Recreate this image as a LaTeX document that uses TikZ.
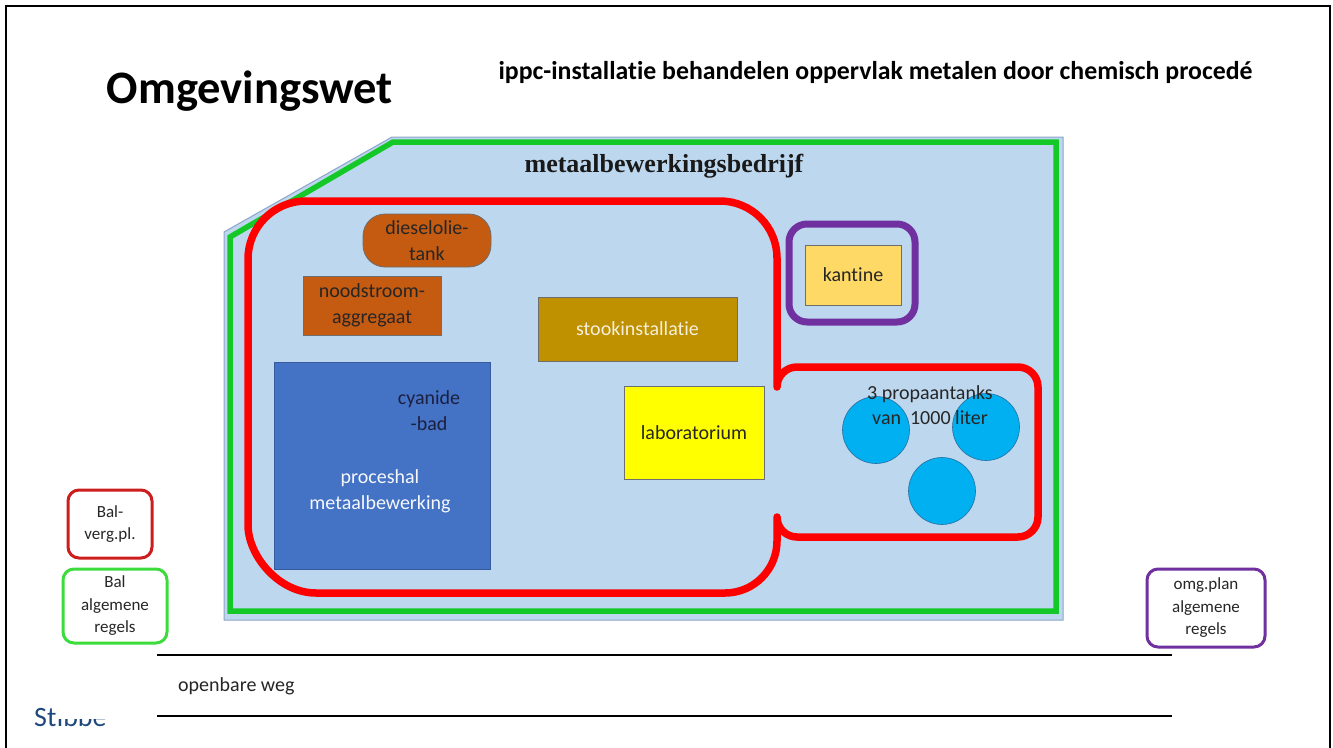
\documentclass[tikz,border=0pt]{standalone}
\usepackage{fontspec}
\setmainfont{Carlito}[Ligatures=NoCommon]
\newfontfamily\serifbold{Liberation Serif}[Scale=1]
\definecolor{bgblue}{RGB}{189,215,238}
\definecolor{bgline}{RGB}{140,165,200}
\definecolor{grn}{RGB}{20,200,40}
\definecolor{lgrn}{RGB}{60,220,60}
\definecolor{rd}{RGB}{255,0,0}
\definecolor{lrd}{RGB}{205,30,30}
\definecolor{prp}{RGB}{112,48,160}
\definecolor{brownbox}{RGB}{197,90,17}
\definecolor{stook}{RGB}{191,144,0}
\definecolor{hal}{RGB}{68,114,196}
\definecolor{lab}{RGB}{255,255,0}
\definecolor{kant}{RGB}{255,217,102}
\definecolor{tank}{RGB}{0,176,240}
\definecolor{tankline}{RGB}{40,110,160}
\definecolor{boxline}{RGB}{110,110,110}
\definecolor{txt}{RGB}{38,38,38}
\definecolor{navy}{RGB}{28,32,64}
\definecolor{lighttxt}{RGB}{245,240,220}
\definecolor{stblue}{RGB}{31,73,125}
\newcommand\bxfont{\fontsize{20}{25.5}\selectfont}
\newcommand\lbfont{\fontsize{17}{22.5}\selectfont}
\tikzset{
  box/.style={draw=boxline, line width=0.8pt, inner sep=0pt, align=center, font=\bxfont, text=txt},
  plain/.style={inner sep=0pt, align=center, font=\bxfont, text=txt},
  lbl/.style={rounded corners=11pt, line width=3pt, inner sep=0pt, align=center, font=\lbfont, text=txt},
  tankc/.style={circle, fill=tank, draw=tankline, line width=0.6pt, minimum size=67pt, inner sep=0pt},
  road/.style={line width=2.5pt, black},
  frame/.style={line width=2.5pt, black},
}
\begin{document}
\begin{tikzpicture}[x=1pt,y=-1pt]
\useasboundingbox (0,0) rectangle (1333,747);
\fill[white] (0,0) rectangle (1333,747);
% frame
\draw[frame] (6,760) -- (6,6) -- (1330,6) -- (1330,760);

% titles
\node[anchor=base, inner sep=0pt, font=\fontsize{46.5}{50}\selectfont\bfseries] (title) at (250,103) {Omgevingswet};
\node[anchor=base, inner sep=0pt, font=\fontsize{25.8}{28}\selectfont\bfseries] (subtitle) at (875.5,79) {ippc-installatie behandelen oppervlak metalen door chemisch procedé};

% site area
\filldraw[fill=bgblue, draw=bgline, line width=1pt] (224,232) -- (392,137) -- (1063,137) -- (1063,620) -- (224,620) -- cycle;
\draw[grn, line width=5.5pt, line join=miter] (230,237) -- (393,142) -- (1056,142) -- (1056,611) -- (230,611) -- cycle;
\node[anchor=base, inner sep=0pt, font=\serifbold\fontsize{26}{30}\selectfont\bfseries, text=black!90] (bedrijf) at (664,172) {metaalbewerkingsbedrijf};

% red boundary (ippc)
\draw[rd, line width=7.5pt, line join=round]
  (306,201) -- (720,201) .. controls (751.5,201) and (777,226.5) .. (777,258)
  -- (777,387) .. controls (777,376) and (786,367) .. (797,367)
  -- (1018,367) .. controls (1029,367) and (1038,376) .. (1038,387)
  -- (1038,517) .. controls (1038,528) and (1029,537) .. (1018,537)
  -- (797,537) .. controls (786,537) and (777,528) .. (777,517)
  -- (777,541) .. controls (777,569.7) and (753.7,593) .. (725,593)
  -- (316,593) .. controls (278.4,593) and (248,555.4) .. (248,525)
  -- (248,259) .. controls (248,227) and (274,201) .. (306,201) -- cycle;

% purple enclosure kantine
\node[draw=prp, line width=7pt, rounded corners=18pt, minimum width=126pt, minimum height=98pt, inner sep=0pt] (kantencl) at (852,273) {};
\node[box, fill=kant, minimum width=96pt, minimum height=60pt] (kantine) at (853,275) {kantine};

% installations
\node[box, fill=brownbox, rounded corners=22pt, minimum width=128pt, minimum height=53pt] (diesel) at (427,240.5) {dieselolie-\\tank};
\node[box, fill=brownbox, minimum width=138pt, minimum height=59pt] (nood) at (372,305.5) {noodstroom-\\aggregaat};
\node[box, fill=stook, text=lighttxt, minimum width=199pt, minimum height=64pt] (stookinst) at (637.5,329) {stookinstallatie};
\node[box, fill=hal, draw=hal!80!black, minimum width=216pt, minimum height=207pt] (hal) at (382,465.5) {};
\node[plain, text=navy] (cyanide) at (429,410.5) {cyanide\\-bad};
\node[plain, text=white!95!hal] (halt) at (380,491.5) {proceshal\\metaalbewerking};
\node[box, fill=lab, minimum width=140pt, minimum height=93pt] (lab) at (694,432.5) {laboratorium};

% propane tanks
\node[tankc] (t1) at (876,430) {};
\node[tankc] (t2) at (986,427) {};
\node[tankc] (t3) at (942,491) {};
\node[plain] (proptxt) at (930,405) {3 propaantanks\\van\ \ 1000 liter};

% legend boxes
\node[lbl, draw=lrd, minimum width=84pt, minimum height=68pt] (balverg) at (110,524) {Bal-\\verg.pl.};
\node[lbl, draw=lgrn, minimum width=104pt, minimum height=74pt] (balalg) at (115,606) {Bal\\algemene\\regels};
\node[lbl, draw=prp, minimum width=118pt, minimum height=78pt] (omg) at (1206,608) {omg.plan\\algemene\\regels};

% road
\coordinate (r1a) at (157,655);
\coordinate (r1b) at (1172,655);
\coordinate (r2a) at (157,716);
\coordinate (r2b) at (1172,716);
\draw[road] (r1a) -- (r1b);
\draw[road] (r2a) -- (r2b);
\node[plain, anchor=west] (weg) at (178,686) {openbare weg};

% footer logo text (partly hidden)
\node[anchor=base west, inner sep=0pt, font=\fontsize{28}{30}\selectfont, text=stblue] (st) at (34,726) {St};
\begin{scope}
  \clip (55,719) rectangle (110,735);
  \node[anchor=base west, inner sep=0pt, font=\fontsize{28}{30}\selectfont, text=stblue] (stb) at (st.base east) {ibbe};
\end{scope}
\end{tikzpicture}
\end{document}
